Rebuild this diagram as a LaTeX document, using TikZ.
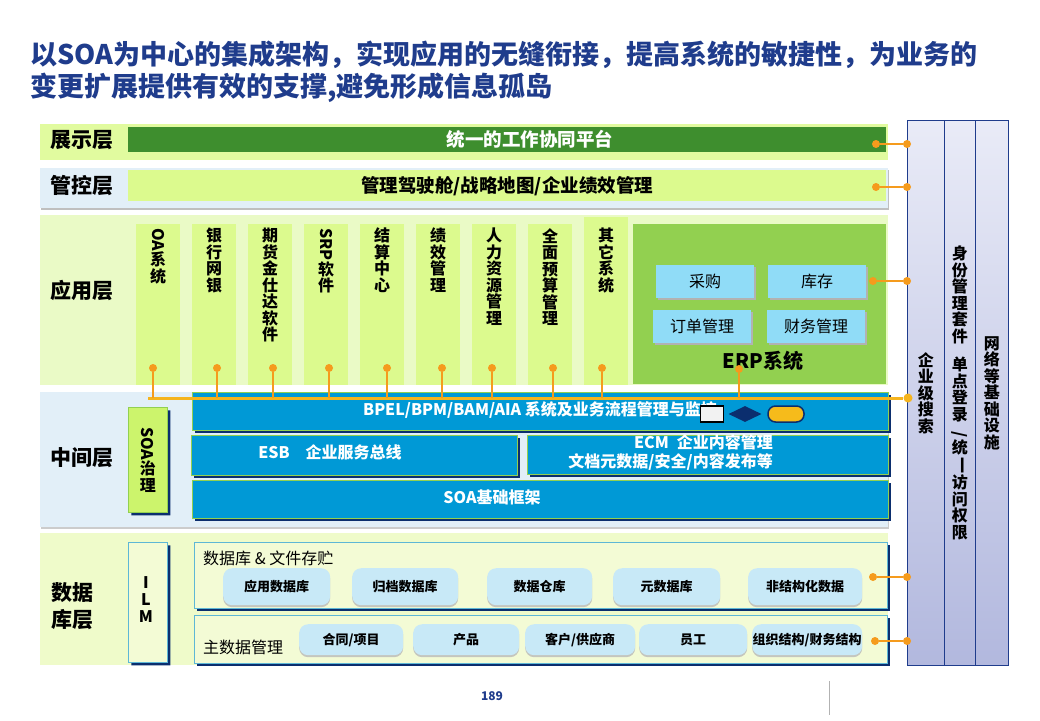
\documentclass[tikz,border=0pt]{standalone}
\usepackage{fontspec}
\setmainfont{Noto Sans CJK SC}
\usepackage{tikz}
\usetikzlibrary{positioning,shadows,shapes.geometric,shapes.misc}
\definecolor{navyc}{HTML}{1F3C8C}
\definecolor{deepc}{HTML}{0B2E6E}
\definecolor{limec}{HTML}{DCFA8E}
\definecolor{limebg}{HTML}{EAFAC6}
\definecolor{leafc}{HTML}{3E8E2E}
\definecolor{erpc}{HTML}{92D050}
\definecolor{govc}{HTML}{CCF46C}
\definecolor{skyc}{HTML}{90DCF7}
\definecolor{iceb}{HTML}{E2EFF8}
\definecolor{busc}{HTML}{0099D6}
\definecolor{wirec}{HTML}{F59B1D}
\definecolor{goldc}{HTML}{F5B41E}
\definecolor{paleb}{HTML}{EFFBCA}
\definecolor{boxc}{HTML}{F3FBD5}
\definecolor{edgec}{HTML}{5DB7D6}
\definecolor{pillc}{HTML}{C8E9F7}
\definecolor{lavtop}{HTML}{E9EBF7}
\definecolor{lavbot}{HTML}{B2B8DE}
\newcommand\turnch[2]{\raisebox{#1}{\rotatebox{-90}{#2}}}
\tikzset{
  lyr/.style={font=\fontsize{21}{27}\selectfont\bfseries,align=center,inner sep=0pt},
  col/.style={fill=limec,anchor=north west,minimum width=44pt,inner sep=0pt},
  vtx/.style={align=center,font=\fontsize{16}{16.5}\selectfont\bfseries,inner sep=0pt},
  sub/.style={fill=skyc,anchor=north west,minimum width=98pt,minimum height=33pt,inner sep=0pt,
    font=\fontsize{16}{18}\selectfont,
    drop shadow={shadow xshift=1.5pt,shadow yshift=-1.5pt,fill=black!30,opacity=1}},
  blu/.style={fill=busc,draw=erpc,line width=0.7pt,anchor=north west,inner sep=0pt,
    drop shadow={shadow xshift=3pt,shadow yshift=-3pt,fill=deepc,opacity=1}},
  wtx/.style={text=white,font=\fontsize{16}{19}\selectfont\bfseries,inner sep=0pt},
  dbox/.style={fill=boxc,draw=edgec,line width=0.7pt,anchor=north west,inner sep=0pt,
    drop shadow={shadow xshift=3pt,shadow yshift=-3pt,fill=deepc,opacity=1}},
  tag/.style={chamfered rectangle,chamfered rectangle corners=north east,
    chamfered rectangle xsep=5pt,chamfered rectangle ysep=5pt,anchor=north west,
    minimum width=39pt,inner sep=0pt,line width=0.6pt,
    drop shadow={shadow xshift=3pt,shadow yshift=-3pt,fill=deepc,opacity=1}},
  pill/.style={fill=pillc,rounded corners=9pt,anchor=north west,inner sep=0pt,
    font=\fontsize{13}{15}\selectfont\bfseries,
    drop shadow={shadow xshift=0pt,shadow yshift=-2pt,fill=gray!55,opacity=0.8}},
  dot/.style={circle,fill=wirec,minimum size=8pt,inner sep=0pt},
  wire/.style={wirec,line width=2pt},
  rcol/.style={draw=navyc,line width=0.8pt,top color=lavtop,bottom color=lavbot,
    anchor=north west,inner sep=0pt,minimum height=545pt}
}
\begin{document}
\begin{tikzpicture}[x=1pt,y=-1pt]
\useasboundingbox (0,0) rectangle (1040,720);
\fill[white] (0,0) rectangle (1040,720);
% title
\node[anchor=west,text=navyc,font=\fontsize{27}{30}\selectfont\bfseries,inner sep=0pt] (ttl1) at (30,55) {以SOA为中心的集成架构，实现应用的无缝衔接，提高系统的敏捷性，为业务的};
\node[anchor=west,text=navyc,font=\fontsize{27}{30}\selectfont\bfseries,inner sep=0pt] (ttl2) at (30,88) {变更扩展提供有效的支撑,避免形成信息孤岛};

% layer bands
\fill[limec!85!white] (40,124) rectangle (888,160);
\fill[iceb,drop shadow={shadow xshift=1pt,shadow yshift=-2pt,fill=gray!50,opacity=1}] (40,168) rectangle (888,208);
\fill[limebg] (40,215) rectangle (888,385);
\fill[iceb,drop shadow={shadow xshift=1pt,shadow yshift=-2pt,fill=gray!40,opacity=1}] (40,392) rectangle (888,527);
\fill[paleb] (40,533) rectangle (888,665);

\node[lyr] (lshow) at (82,140) {展示层};
\node[lyr] (lctrl) at (82,186) {管控层};
\node[lyr] (lapp) at (82,290) {应用层};
\node[lyr] (lmid) at (82,458) {中间层};
\node[lyr] (ldata) at (72,606) {数据\\库层};

% top bars
\node[fill=leafc,anchor=north west,minimum width=758pt,minimum height=25pt,inner sep=0pt] (showbar) at (128,127) {};
\node[wtx,font=\fontsize{18.5}{20}\selectfont\bfseries,xshift=23pt] (showtxt) at (showbar.center) {统一的工作协同平台};
\node[fill=limec,anchor=north west,minimum width=758pt,minimum height=31pt,inner sep=0pt,
  font=\fontsize{18.5}{20}\selectfont\bfseries] (ctrlbar) at (128,170) {管理驾驶舱/战略地图/企业绩效管理};

% application columns
\foreach \i/\tp/\dx/\lbl in {
  0/224/153/{\rotatebox{-90}{OA}\\系\\统},
  1/224/217/{银\\行\\网\\银},
  2/224/273/{期\\货\\金\\仕\\达\\软\\件},
  3/224/329/{\rotatebox{-90}{SRP}\\软\\件},
  4/224/387/{结\\算\\中\\心},
  5/224/442/{绩\\效\\管\\理},
  6/224/492/{人\\力\\资\\源\\管\\理},
  7/224/553/{全\\面\\预\\算\\管\\理},
  8/217/602/{其\\它\\系\\统}}{
  \pgfmathsetmacro\hh{385-\tp}
  \node[col,minimum height=\hh pt] (c\i) at (136+56*\i,\tp) {};
  \node[vtx,anchor=north] (t\i) at (158+56*\i,228) {\lbl};
  \node[dot] (d\i) at (\dx,368) {};
}

% ERP
\node[fill=erpc,anchor=north west,minimum width=253pt,minimum height=160pt,inner sep=0pt] (erp) at (633,224) {};
\node[sub] (buy) at (656,265) {采购};
\node[sub] (stock) at (768,265) {库存};
\node[sub] (order) at (653,310) {订单管理};
\node[sub] (fin) at (767,310) {财务管理};
\node[font=\fontsize{20}{22}\selectfont\bfseries,inner sep=0pt] (erpt) at (763,361) {ERP系统};
\node[dot] (derp) at (739,369) {};

% middle layer
\node[tag,fill=govc,draw=erpc,minimum height=105pt] (gov) at (128,407) {};
\node[vtx] (govt) at (gov.center) {\rotatebox{-90}{SOA}\\治\\理};
\node[blu,minimum width=696pt,minimum height=38pt] (bpel) at (192,392) {};
\node[wtx] (bpelt) at (540,410) {BPEL/BPM/BAM/AIA 系统及业务流程管理与监控};
\node[blu,minimum width=326pt,minimum height=40pt] (esb) at (191,435) {};
\node[wtx] (esbt) at (330,452) {ESB\quad 企业服务总线};
\node[blu,minimum width=361pt,minimum height=39pt] (ecm) at (527,435) {};
\node[wtx,align=right,anchor=east] (ecmt) at (773,453) {ECM\enspace 企业内容管理\\文档元数据/安全/内容发布等};
\node[blu,minimum width=696pt,minimum height=38pt] (soab) at (192,480) {};
\node[wtx] (soabt) at (492,497) {SOA基础框架};

% bus icons
\node[draw=black,line width=1.5pt,fill=gray!10,minimum width=23pt,minimum height=16pt,inner sep=0pt] (icrect) at (712,414) {};
\node[diamond,fill=deepc,minimum width=33pt,minimum height=16pt,inner sep=0pt] (icdia) at (745,414) {};
\node[draw=deepc,line width=1.5pt,fill=goldc!90!yellow,rounded corners=7.5pt,minimum width=36pt,minimum height=16pt,inner sep=0pt] (icpill) at (786,414) {};

% data layer
\node[tag,fill=boxc,draw=edgec,minimum height=120pt] (ilm) at (128,542) {};
\node[vtx,font=\fontsize{16}{17}\selectfont\bfseries] (ilmt) at (146,600) {I\\L\\M};
\node[dbox,minimum width=693pt,minimum height=66pt] (dbs) at (194,542) {};
\node[anchor=west,inner sep=0pt,font=\fontsize{16}{18}\selectfont] (dbst) at (203,558) {数据库 \& 文件存贮};
\foreach \k/\nm/\xa/\w in {1/应用数据库/223/107, 2/归档数据库/352/106, 3/数据仓库/487/105, 4/元数据库/613/107, 5/非结构化数据/748/114}
  \node[pill,minimum width=\w pt,minimum height=37pt] (db\k) at (\xa,568) {\nm};
\node[dbox,minimum width=693pt,minimum height=48pt] (mdm) at (194,615) {};
\node[anchor=west,inner sep=0pt,font=\fontsize{16}{18}\selectfont] (mdmt) at (203,647) {主数据管理};
\foreach \k/\nm/\xa/\w in {1/{合同/项目}/299/104, 2/产品/413/106, 3/{客户/供应商}/525/110, 4/员工/639/108, 5/{组织结构/财务结构}/752/110}
  \node[pill,minimum width=\w pt,minimum height=31pt] (md\k) at (\xa,624) {\nm};

% right columns
\node[rcol,minimum width=37pt] (srch) at (907,120) {};
\node[rcol,minimum width=31pt] (iam) at (944,120) {};
\node[rcol,minimum width=33pt] (infra) at (975,120) {};
\node[vtx] (srcht) at (srch.center) {企\\业\\级\\搜\\索};
\node[vtx] (iamt) at (iam.center) {身\\份\\管\\理\\套\\件\\[12pt]单\\点\\登\\录\\\turnch{5pt}{/}\\统\\\turnch{12pt}{一}\\访\\问\\权\\限};
\node[vtx] (infrat) at (infra.center) {网\\络\\等\\基\\础\\设\\施};

% connectors
\coordinate (busL) at (148,398);
\node[dot,fill=goldc,minimum size=9pt] (busR) at (908,398) {};
\draw[goldc,line width=3pt] (busL) -- (busR);
\foreach \i in {0,...,8}
  \draw[wire] (d\i) -- (d\i |- busL);
\draw[wire] (derp) -- (derp |- busL);
\foreach \k/\xa/\yy in {1/876/144, 2/876/187, 3/873/281, 4/873/577, 5/875/641}{
  \node[dot] (la\k) at (\xa,\yy) {};
  \node[dot] (ra\k) at (907,\yy) {};
  \draw[wire] (la\k) -- (ra\k);
}

% footer
\node[text=navyc,font=\fontsize{12}{14}\selectfont\bfseries,inner sep=0pt] (pgno) at (492,696) {189};
\draw[gray!60,line width=0.8pt] (829,681) -- (829,715);
\end{tikzpicture}
\end{document}
